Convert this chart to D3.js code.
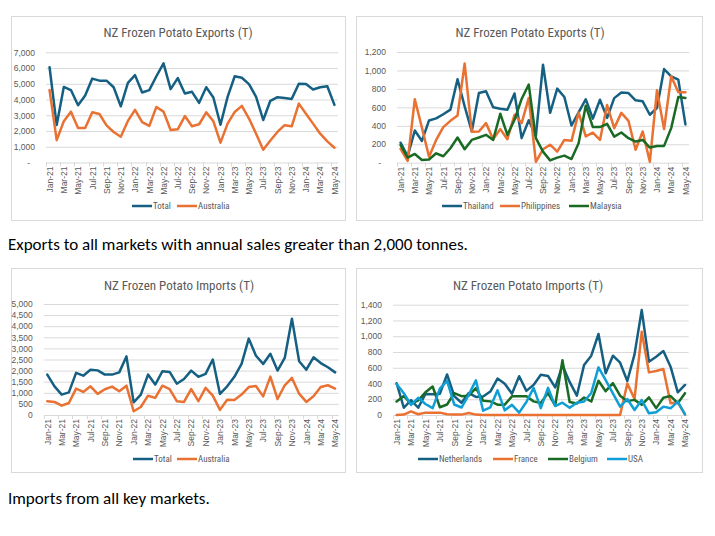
<!DOCTYPE html>
<html>
<head>
<meta charset="utf-8">
<script src="https://cdn.jsdelivr.net/npm/d3@7"></script>
<style>
  html, body { margin: 0; padding: 0; background: #fff; }
  svg { display: block; }
  .cap { font-family: Carlito, "Liberation Sans", Arial, sans-serif; font-size: 17px; fill: #000; }
  .chartfont { font-family: "Liberation Sans Narrow", "Arial Narrow", "Roboto Condensed", Lato, sans-serif; }
</style>
</head>
<body>
<svg id="chart" width="715" height="536"></svg>
<script>
// ---------- DATA ----------
const months = ["Jan-21","Feb-21","Mar-21","Apr-21","May-21","Jun-21","Jul-21","Aug-21","Sep-21","Oct-21","Nov-21","Dec-21",
  "Jan-22","Feb-22","Mar-22","Apr-22","May-22","Jun-22","Jul-22","Aug-22","Sep-22","Oct-22","Nov-22","Dec-22",
  "Jan-23","Feb-23","Mar-23","Apr-23","May-23","Jun-23","Jul-23","Aug-23","Sep-23","Oct-23","Nov-23","Dec-23",
  "Jan-24","Feb-24","Mar-24","Apr-24","May-24"];

const exportTotal = [6050,2380,4800,4600,3640,4250,5330,5200,5200,4780,3570,5060,
  5550,4450,4600,5480,6300,4660,5360,4380,4490,3790,4780,4130,
  2400,4170,5480,5380,4980,4170,2700,3920,4150,4100,4040,5000,
  4980,4640,4780,4840,3660];
const exportAustralia = [4600,1420,2620,3230,2190,2190,3190,3080,2360,1940,1640,2640,
  3340,2560,2320,3530,3230,2060,2110,2950,2300,2430,3190,2620,
  1260,2470,3210,3600,2790,1830,810,1400,1940,2370,2300,3740,
  3100,2470,1830,1340,940];

const exportThailand = [217,70,349,236,458,480,525,575,905,610,340,756,
  774,600,585,575,750,266,460,290,1062,540,803,712,
  403,545,688,478,683,486,700,760,755,676,665,520,
  593,1015,937,901,415];
const exportPhilippines = [150,20,688,380,65,247,386,454,512,1075,335,338,
  429,255,364,255,520,429,702,10,145,195,120,247,
  237,545,285,325,247,625,375,540,454,140,338,10,
  785,364,937,763,763];
const exportMalaysia = [190,55,95,30,35,102,70,157,273,146,247,273,
  302,247,531,302,465,691,847,266,120,25,55,77,
  40,211,618,386,386,422,283,327,266,229,247,164,
  182,182,375,712,702];

const importTotal = [1820,1290,920,1020,1900,1770,2040,2010,1820,1820,1920,2640,
  570,920,1820,1370,1970,1940,1410,1620,2000,1720,1850,2500,
  950,1290,1720,2300,3440,2670,2300,2760,2000,2570,4340,2420,
  2040,2600,2340,2150,1920];
const importAustralia = [620,590,420,540,1190,1040,1290,950,1160,1280,1070,1320,
  170,360,870,770,1320,1170,620,590,1170,620,1220,870,
  230,690,680,920,1260,1310,840,1730,720,1340,1670,960,
  590,840,1260,1340,1190];

const importNetherlands = [404,92,188,92,268,262,270,514,240,155,278,230,
  235,298,463,397,270,492,306,382,510,495,350,630,
  420,245,634,753,1028,529,753,664,431,770,1332,677,
  740,812,613,288,381];
const importFrance = [0,5,45,10,30,30,30,10,5,5,25,5,
  0,0,0,0,0,0,0,0,0,0,0,0,
  0,0,0,0,0,0,0,0,400,205,1057,541,
  558,584,148,161,8];
const importBelgium = [171,241,140,186,288,362,98,133,277,239,245,340,
  182,173,131,131,237,237,237,173,152,279,120,694,
  165,146,222,171,435,302,404,245,176,192,129,224,
  87,218,241,150,277];
const importUSA = [393,277,129,218,140,87,334,433,133,95,256,440,
  55,97,313,59,129,30,165,345,87,345,114,156,
  91,156,171,280,605,444,275,106,203,63,190,21,
  34,106,85,169,8];

const exportTicks1 = [0,1000,2000,3000,4000,5000,6000,7000];
const exportTicks2 = [0,200,400,600,800,1000,1200];
const importTicks1 = [0,500,1000,1500,2000,2500,3000,3500,4000,4500,5000];
const importTicks2 = [0,200,400,600,800,1000,1200,1400];

const titleExports = "NZ Frozen Potato Exports (T)";
const titleImports = "NZ Frozen Potato Imports (T)";
const caption1 = "Exports to all markets with annual sales greater than 2,000 tonnes.";
const caption2 = "Imports from all key markets.";

const C = { blue: "#156082", orange: "#E97132", green: "#196B24", light: "#0F9ED5" };

// ---------- DRAW ----------
const svg = d3.select("#chart");
const fmtComma = d3.format(",");

function panel(cfg) {
  const g = svg.append("g").attr("class", "chartfont");
  g.append("rect")
    .attr("x", cfg.box[0] + 0.5).attr("y", cfg.box[1] + 0.5)
    .attr("width", cfg.box[2] - cfg.box[0]).attr("height", cfg.box[3] - cfg.box[1])
    .attr("fill", "#fff").attr("stroke", "#D9D9D9").attr("stroke-width", 1);

  const x = d3.scalePoint().domain(months).range([cfg.plot[0], cfg.plot[1]]).padding(0.5);
  const y = d3.scaleLinear().domain([0, d3.max(cfg.ticks)]).range([cfg.plot[3], cfg.plot[2]]);
  const step = x.step();

  g.append("text")
    .attr("x", cfg.titleX)
    .attr("y", cfg.titleY)
    .attr("text-anchor", "middle")
    .attr("fill", "#595959")
    .attr("font-size", 13)
    .text(cfg.title);

  const grid = g.append("g")
    .attr("transform", `translate(${cfg.plot[0]},0)`)
    .call(d3.axisLeft(y).tickValues(cfg.ticks.slice(1)).tickSize(-(cfg.plot[1] - cfg.plot[0])).tickFormat(""));
  grid.select(".domain").remove();
  grid.selectAll("line").attr("stroke", "#D9D9D9").attr("stroke-width", 1);

  const ya = g.append("g")
    .attr("transform", `translate(${cfg.plot[0] - 8},0)`)
    .call(d3.axisLeft(y).tickValues(cfg.ticks).tickSize(0)
      .tickFormat(d => d === 0 ? cfg.zeroLabel : fmtComma(d)));
  ya.select(".domain").remove();
  ya.selectAll("text").attr("fill", "#595959").attr("font-size", 8.5)
    .attr("font-family", null)
    .attr("dx", d => d === 0 && cfg.zeroLabel === "-" ? -5 : 0);

  g.append("line")
    .attr("x1", cfg.plot[0]).attr("x2", cfg.plot[1])
    .attr("y1", cfg.plot[3] + 0.5).attr("y2", cfg.plot[3] + 0.5)
    .attr("stroke", "#D9D9D9").attr("stroke-width", 1);
  const tickIdx = d3.range(0, months.length, 2);
  g.selectAll(".tm").data(tickIdx).enter().append("line")
    .attr("x1", i => Math.round(x(months[i]) - step / 2) + 0.5)
    .attr("x2", i => Math.round(x(months[i]) - step / 2) + 0.5)
    .attr("y1", cfg.plot[3]).attr("y2", cfg.plot[3] + 4)
    .attr("stroke", "#D9D9D9").attr("stroke-width", 1);

  const xa = g.append("g")
    .attr("transform", `translate(0,${cfg.plot[3] + 4})`)
    .call(d3.axisBottom(x).tickValues(months.filter((m, i) => i % 2 === 0)).tickSize(0).tickPadding(0));
  xa.select(".domain").remove();
  xa.selectAll("text")
    .attr("fill", "#595959").attr("font-size", 8.5).attr("font-family", null)
    .attr("transform", "rotate(-90)")
    .attr("text-anchor", "end")
    .attr("x", 0).attr("y", 0).attr("dy", "0.32em");

  const line = d3.line().x((d, i) => x(months[i])).y(d => y(d));
  cfg.series.forEach(s => {
    g.append("path").datum(s.values)
      .attr("fill", "none").attr("stroke", s.color).attr("stroke-width", 2.5)
      .attr("stroke-linejoin", "round").attr("stroke-linecap", "round")
      .attr("d", line);
  });

  cfg.series.forEach(s => {
    g.append("line")
      .attr("x1", s.lx).attr("x2", s.lx + 20)
      .attr("y1", cfg.legendY).attr("y2", cfg.legendY)
      .attr("stroke", s.color).attr("stroke-width", 2.5);
    g.append("text")
      .attr("x", s.lx + 21).attr("y", cfg.legendY).attr("dy", "0.35em")
      .attr("fill", "#595959").attr("font-size", 9)
      .text(s.name);
  });
}

panel({
  box: [11, 16, 345, 220], plot: [46, 338, 52.3, 162.5], ticks: exportTicks1, zeroLabel: "-",
  title: titleExports, titleX: 178, titleY: 37, legendY: 206,
  series: [
    { name: "Total", values: exportTotal, color: C.blue, lx: 132 },
    { name: "Australia", values: exportAustralia, color: C.orange, lx: 177 }
  ]
});
panel({
  box: [356, 16, 702, 220], plot: [397, 689, 52, 162.7], ticks: exportTicks2, zeroLabel: "-",
  title: titleExports, titleX: 530, titleY: 37, legendY: 206,
  series: [
    { name: "Thailand", values: exportThailand, color: C.blue, lx: 442 },
    { name: "Philippines", values: exportPhilippines, color: C.orange, lx: 500 },
    { name: "Malaysia", values: exportMalaysia, color: C.green, lx: 569 }
  ]
});
panel({
  box: [11, 268, 345, 472], plot: [43.7, 338.7, 304, 415], ticks: importTicks1, zeroLabel: "0",
  title: titleImports, titleX: 179, titleY: 290, legendY: 459,
  series: [
    { name: "Total", values: importTotal, color: C.blue, lx: 133 },
    { name: "Australia", values: importAustralia, color: C.orange, lx: 177 }
  ]
});
panel({
  box: [356, 268, 702, 472], plot: [393, 688.6, 304.7, 415], ticks: importTicks2, zeroLabel: "0",
  title: titleImports, titleX: 528, titleY: 290, legendY: 459,
  series: [
    { name: "Netherlands", values: importNetherlands, color: C.blue, lx: 418 },
    { name: "France", values: importFrance, color: C.orange, lx: 493 },
    { name: "Belgium", values: importBelgium, color: C.green, lx: 548 },
    { name: "USA", values: importUSA, color: C.light, lx: 607 }
  ]
});

svg.append("text").attr("class", "cap").attr("x", 8).attr("y", 250).text(caption1);
svg.append("text").attr("class", "cap").attr("x", 8).attr("y", 504).text(caption2);
</script>
</body>
</html>
